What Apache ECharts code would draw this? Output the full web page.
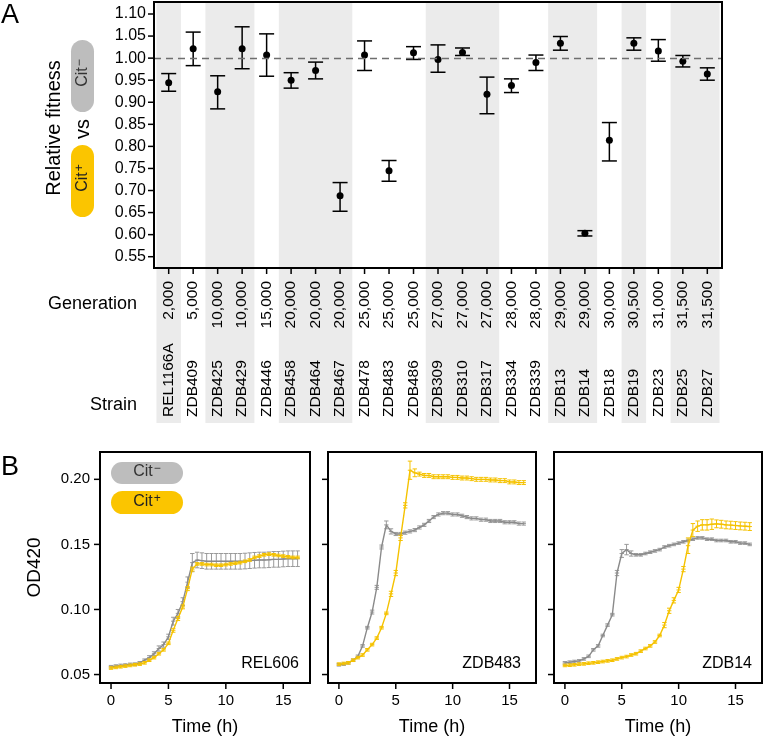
<!DOCTYPE html>
<html><head><meta charset="utf-8">
<script src="https://cdn.jsdelivr.net/npm/echarts@6/dist/echarts.min.js"></script>
<style>html,body{margin:0;padding:0;background:#fff}#c{width:764px;height:738px}</style>
</head><body><div id="c"></div>
<script>
// ---------- Panel A data ----------
const strains = ['REL1166A','ZDB409','ZDB425','ZDB429','ZDB446','ZDB458','ZDB464','ZDB467','ZDB478','ZDB483','ZDB486','ZDB309','ZDB310','ZDB317','ZDB334','ZDB339','ZDB13','ZDB14','ZDB18','ZDB19','ZDB23','ZDB25','ZDB27'];
const generations = ['2,000','5,000','10,000','10,000','15,000','20,000','20,000','20,000','25,000','25,000','25,000','27,000','27,000','27,000','28,000','28,000','29,000','29,000','30,000','30,500','31,000','31,500','31,500'];
const fitness     = [0.944,1.021,0.924,1.021,1.007,0.950,0.972,0.688,1.007,0.745,1.012,0.997,1.013,0.918,0.938,0.990,1.034,0.603,0.814,1.034,1.016,0.993,0.964];
const fitnessLow  = [0.925,0.983,0.885,0.976,0.959,0.932,0.953,0.653,0.972,0.721,0.997,0.968,1.006,0.874,0.922,0.972,1.018,0.597,0.767,1.018,0.993,0.980,0.950];
const fitnessHigh = [0.965,1.059,0.960,1.071,1.055,0.967,0.991,0.718,1.039,0.768,1.026,1.030,1.023,0.957,0.953,1.007,1.049,0.609,0.854,1.046,1.042,1.006,0.978];
const fitnessTicks = [0.55,0.60,0.65,0.70,0.75,0.80,0.85,0.90,0.95,1.00,1.05,1.10];

// ---------- Panel B data ----------
const hours = [0,0.42,0.83,1.25,1.67,2.08,2.5,2.92,3.33,3.75,4.17,4.58,5,5.42,5.83,6.25,6.67,7.08,7.5,7.92,8.33,8.75,9.17,9.58,10,10.42,10.83,11.25,11.67,12.08,12.5,12.92,13.33,13.75,14.17,14.58,15,15.42,15.83,16.25];
const rel606Minus = [0.056,0.0565,0.057,0.0573,0.0578,0.058,0.059,0.061,0.063,0.066,0.070,0.073,0.079,0.091,0.097,0.106,0.121,0.136,0.138,0.1375,0.137,0.137,0.137,0.137,0.137,0.137,0.137,0.137,0.1372,0.1375,0.1378,0.138,0.138,0.1382,0.1385,0.1385,0.1388,0.139,0.139,0.139];
const rel606MinusErr = [0.001,0.001,0.001,0.001,0.001,0.001,0.001,0.001,0.0015,0.0015,0.002,0.002,0.002,0.003,0.003,0.003,0.004,0.007,0.006,0.006,0.006,0.006,0.006,0.006,0.006,0.006,0.006,0.006,0.006,0.006,0.006,0.006,0.006,0.006,0.006,0.006,0.006,0.006,0.006,0.006];
const rel606Plus = [0.055,0.0555,0.056,0.0565,0.057,0.0575,0.058,0.059,0.061,0.063,0.066,0.069,0.074,0.084,0.093,0.102,0.116,0.131,0.135,0.135,0.1345,0.1345,0.134,0.134,0.1345,0.135,0.1355,0.136,0.137,0.138,0.140,0.141,0.142,0.1425,0.142,0.1415,0.141,0.1405,0.140,0.140];
const rel606PlusErr = [0.001,0.001,0.001,0.001,0.001,0.001,0.001,0.001,0.001,0.001,0.001,0.001,0.001,0.0015,0.0015,0.0015,0.0015,0.0015,0.001,0.001,0.001,0.001,0.001,0.001,0.001,0.001,0.001,0.001,0.001,0.001,0.001,0.001,0.001,0.001,0.001,0.001,0.001,0.001,0.001,0.001];
const zdb483Minus = [0.0575,0.058,0.059,0.061,0.064,0.072,0.086,0.098,0.117,0.148,0.165,0.160,0.158,0.158,0.159,0.160,0.161,0.163,0.165,0.168,0.171,0.173,0.174,0.174,0.173,0.173,0.172,0.171,0.170,0.170,0.169,0.169,0.168,0.168,0.168,0.167,0.167,0.167,0.166,0.166];
const zdb483MinusErr = [0.001,0.001,0.001,0.001,0.001,0.001,0.001,0.0015,0.0015,0.0015,0.003,0.002,0.0012,0.0012,0.0012,0.0012,0.0012,0.0012,0.0012,0.0012,0.0012,0.0012,0.0012,0.0012,0.0012,0.0012,0.0012,0.0012,0.0012,0.0012,0.0012,0.0012,0.0012,0.0012,0.0012,0.0012,0.0012,0.0012,0.0012,0.0012];
const zdb483Plus = [0.058,0.0585,0.059,0.061,0.063,0.065,0.069,0.073,0.078,0.086,0.097,0.112,0.128,0.155,0.180,0.207,0.205,0.204,0.203,0.203,0.202,0.202,0.202,0.202,0.2015,0.2015,0.201,0.201,0.2005,0.200,0.200,0.200,0.1995,0.1995,0.199,0.199,0.198,0.198,0.1975,0.1975];
const zdb483PlusErr = [0.001,0.001,0.001,0.001,0.001,0.001,0.001,0.001,0.001,0.001,0.001,0.002,0.002,0.002,0.002,0.007,0.003,0.0015,0.0015,0.0015,0.0015,0.0015,0.0015,0.0015,0.0015,0.0015,0.0015,0.0015,0.0015,0.0015,0.0015,0.0015,0.0015,0.0015,0.0015,0.0015,0.0015,0.0015,0.0015,0.0015];
const zdb14Minus = [0.059,0.0595,0.060,0.0605,0.062,0.064,0.069,0.072,0.080,0.088,0.096,0.128,0.143,0.146,0.143,0.142,0.142,0.143,0.144,0.145,0.146,0.148,0.149,0.150,0.151,0.152,0.153,0.154,0.155,0.155,0.154,0.154,0.153,0.153,0.153,0.152,0.152,0.151,0.151,0.150];
const zdb14MinusErr = [0.001,0.001,0.001,0.001,0.001,0.001,0.001,0.001,0.001,0.001,0.001,0.002,0.003,0.004,0.002,0.001,0.001,0.001,0.001,0.001,0.001,0.001,0.001,0.001,0.001,0.001,0.001,0.001,0.001,0.001,0.001,0.001,0.001,0.001,0.001,0.001,0.001,0.001,0.001,0.001];
const zdb14Plus = [0.057,0.0572,0.0575,0.058,0.0582,0.0587,0.059,0.0595,0.060,0.0605,0.061,0.062,0.063,0.0638,0.065,0.066,0.068,0.070,0.072,0.075,0.080,0.088,0.099,0.107,0.115,0.131,0.149,0.161,0.164,0.165,0.165,0.1655,0.1658,0.1655,0.165,0.1648,0.1645,0.1642,0.164,0.1637];
const zdb14PlusErr = [0.001,0.001,0.001,0.001,0.001,0.001,0.001,0.001,0.001,0.001,0.001,0.001,0.001,0.001,0.001,0.001,0.001,0.001,0.001,0.001,0.001,0.002,0.002,0.002,0.002,0.002,0.006,0.005,0.004,0.004,0.004,0.004,0.003,0.003,0.003,0.003,0.003,0.003,0.003,0.003];
const odTicks = [0.05,0.10,0.15,0.20];
const hourTicks = [0,5,10,15];

// ---------- styling ----------
const FONT = '"Liberation Sans", Arial, Helvetica, sans-serif';
const GRAY = '#8a8a8a', GRAY_ERR = '#9a9a9a', YEL = '#f5c200', BAND = '#ebebeb';
const TICK_LEN = 6;
const idx = strains.map((s, i) => i);

// shaded runs: alternate generation groups
const runs = [];
let groupIdx = -1, prev = null;
generations.forEach((g, i) => {
  if (g !== prev) { groupIdx++; prev = g; if (groupIdx % 2 === 0) runs.push([i, i]); }
  else if (groupIdx % 2 === 0) runs[runs.length - 1][1] = i;
});

function bandRender(clamp) {
  return function (params, api) {
    const cs = params.coordSys;
    let a = api.coord([api.value(0) - 0.5, 1])[0];
    let b = api.coord([api.value(1) + 0.5, 1])[0];
    if (clamp) { a = Math.max(a, cs.x); b = Math.min(b, cs.x + cs.width); }
    return { type: 'rect', shape: { x: a, y: cs.y, width: b - a, height: cs.height }, style: { fill: BAND } };
  };
}
function errRender(capHalf, color, width, mid) {
  return function (params, api) {
    const x = api.value(0);
    const p1 = api.coord([x, api.value(1)]), p2 = api.coord([x, api.value(2)]);
    const st = { stroke: color, lineWidth: width };
    const ch = [
      { type: 'line', shape: { x1: p1[0], y1: p1[1], x2: p2[0], y2: p2[1] }, style: st },
      { type: 'line', shape: { x1: p1[0] - capHalf, y1: p1[1], x2: p1[0] + capHalf, y2: p1[1] }, style: st },
      { type: 'line', shape: { x1: p2[0] - capHalf, y1: p2[1], x2: p2[0] + capHalf, y2: p2[1] }, style: st }
    ];
    if (mid) {
      const pm = api.coord([x, api.value(3)]);
      ch.push({ type: 'line', shape: { x1: pm[0] - capHalf, y1: pm[1], x2: pm[0] + capHalf, y2: pm[1] }, style: st });
    }
    return { type: 'group', children: ch };
  };
}
// outward tick marks drawn through the axis scales
function yTickSeries(g, values) {
  return { type: 'custom', xAxisIndex: g, yAxisIndex: g, z: 7, silent: true, clip: false,
    data: values.map(v => [v]), encode: { y: 0 },
    renderItem: (params, api) => {
      const cs = params.coordSys; const y = api.coord([0, api.value(0)])[1];
      return { type: 'line', shape: { x1: cs.x - TICK_LEN, y1: y, x2: cs.x, y2: y }, style: { stroke: '#000', lineWidth: 1.5 } };
    } };
}
function xTickSeries(g, values) {
  return { type: 'custom', xAxisIndex: g, yAxisIndex: g, z: 7, silent: true, clip: false,
    data: values.map(v => [v]), encode: { x: 0 },
    renderItem: (params, api) => {
      const cs = params.coordSys; const x = api.coord([api.value(0), 0])[0]; const yb = cs.y + cs.height;
      return { type: 'line', shape: { x1: x, y1: yb, x2: x, y2: yb + TICK_LEN }, style: { stroke: '#000', lineWidth: 1.5 } };
    } };
}

const grids = [
  { left: 154, top: 2, width: 568, height: 266, show: true, borderColor: '#000', borderWidth: 2, backgroundColor: 'transparent', z: 6 },
  { left: 154, top: 268, width: 568, height: 155, show: false },
  { left: 100, top: 452, width: 210, height: 231, show: true, borderColor: '#000', borderWidth: 2, backgroundColor: 'transparent', z: 6 },
  { left: 328, top: 452, width: 208, height: 231, show: true, borderColor: '#000', borderWidth: 2, backgroundColor: 'transparent', z: 6 },
  { left: 554, top: 452, width: 208, height: 231, show: true, borderColor: '#000', borderWidth: 2, backgroundColor: 'transparent', z: 6 }
];
const noLine = { show: false, onZero: false };
const noTick = { show: false };

const xAxes = [
  { type: 'value', gridIndex: 0, min: -0.6, max: 22.6, z: 5, position: 'bottom',
    axisLine: noLine, splitLine: { show: false }, axisTick: noTick,
    axisLabel: { customValues: idx, rotate: 90, margin: 13, fontSize: 15.5, color: '#000', fontFamily: FONT,
      formatter: v => generations[Math.round(v)] } },
  { type: 'value', gridIndex: 1, min: -0.6, max: 22.6, position: 'bottom', z: 5,
    axisLine: noLine, splitLine: { show: false }, axisTick: noTick,
    axisLabel: { customValues: idx, inside: true, rotate: 90, margin: 6, fontSize: 15.5, color: '#000', fontFamily: FONT,
      formatter: v => strains[Math.round(v)] } }
];
const yAxes = [
  { type: 'value', gridIndex: 0, min: 0.5244, max: 1.1272, z: 5, position: 'left',
    axisLine: noLine, splitLine: { show: false }, axisTick: noTick,
    axisLabel: { customValues: fitnessTicks, margin: 8, fontSize: 16, color: '#000', fontFamily: FONT, formatter: v => v.toFixed(2) } },
  { type: 'value', gridIndex: 1, min: 0, max: 1, show: false, axisLine: noLine }
];
for (let k = 0; k < 3; k++) {
  const g = k + 2;
  xAxes.push({ type: 'value', gridIndex: g, min: -0.96, max: 17.33, z: 5, position: 'bottom',
    name: 'Time (h)', nameLocation: 'middle', nameGap: 35, nameTextStyle: { fontSize: 18, color: '#000', fontFamily: FONT },
    axisLine: noLine, splitLine: { show: false }, axisTick: noTick,
    axisLabel: { customValues: hourTicks, margin: 10, fontSize: 15, color: '#000', fontFamily: FONT } });
  yAxes.push({ type: 'value', gridIndex: g, min: 0.0435, max: 0.221, z: 5, position: 'left',
    name: k === 0 ? 'OD420' : '', nameLocation: 'middle', nameGap: 56, nameTextStyle: { fontSize: 19, color: '#000', fontFamily: FONT },
    axisLine: noLine, splitLine: { show: false }, axisTick: noTick,
    axisLabel: { show: k === 0, customValues: odTicks, margin: 10, fontSize: 15, color: '#000', fontFamily: FONT, formatter: v => v.toFixed(2) } });
}

const series = [
  { type: 'custom', xAxisIndex: 0, yAxisIndex: 0, z: 1, silent: true, data: runs, renderItem: bandRender(true), encode: { x: [0, 1] } },
  { type: 'custom', xAxisIndex: 1, yAxisIndex: 1, z: 1, silent: true, data: runs, renderItem: bandRender(false), encode: { x: [0, 1] } },
  { type: 'custom', xAxisIndex: 0, yAxisIndex: 0, z: 3, silent: true,
    data: idx.map(i => [i, fitnessLow[i], fitnessHigh[i]]), renderItem: errRender(7.5, '#000', 1.5, false), encode: { x: 0, y: [1, 2] } },
  { type: 'scatter', xAxisIndex: 0, yAxisIndex: 0, z: 4, symbolSize: 7, itemStyle: { color: '#000', opacity: 1 },
    data: idx.map(i => [i, fitness[i]]),
    markLine: { silent: true, symbol: ['none', 'none'], label: { show: false },
      lineStyle: { type: [7, 5], color: '#6e6e6e', width: 1.3 }, data: [{ yAxis: 1 }] } },
  yTickSeries(0, fitnessTicks),
  xTickSeries(0, idx)
];

const panels = [
  { label: 'REL606', minus: rel606Minus, minusErr: rel606MinusErr, plus: rel606Plus, plusErr: rel606PlusErr },
  { label: 'ZDB483', minus: zdb483Minus, minusErr: zdb483MinusErr, plus: zdb483Plus, plusErr: zdb483PlusErr },
  { label: 'ZDB14', minus: zdb14Minus, minusErr: zdb14MinusErr, plus: zdb14Plus, plusErr: zdb14PlusErr }
];
panels.forEach((p, k) => {
  const g = k + 2;
  const errData = (v, e) => hours.map((h, i) => [h, v[i] - e[i], v[i] + e[i], v[i]]);
  const lineData = v => hours.map((h, i) => [h, v[i]]);
  series.push({ type: 'custom', xAxisIndex: g, yAxisIndex: g, z: 2, silent: true, data: errData(p.minus, p.minusErr),
    renderItem: errRender(2.2, GRAY_ERR, 1, true), encode: { x: 0, y: [1, 2] } });
  series.push({ type: 'line', xAxisIndex: g, yAxisIndex: g, z: 3, silent: true, symbol: 'none', showSymbol: false,
    lineStyle: { color: GRAY, width: 1.4 }, data: lineData(p.minus) });
  series.push({ type: 'custom', xAxisIndex: g, yAxisIndex: g, z: 4, silent: true, data: errData(p.plus, p.plusErr),
    renderItem: errRender(2.2, YEL, 1, true), encode: { x: 0, y: [1, 2] } });
  series.push({ type: 'line', xAxisIndex: g, yAxisIndex: g, z: 5, silent: true, symbol: 'none', showSymbol: false,
    lineStyle: { color: YEL, width: 1.4 }, data: lineData(p.plus) });
  series.push(yTickSeries(g, odTicks));
  series.push(xTickSeries(g, hourTicks));
});

function citText(sign, size, color) {
  return { text: '{m|Cit}{s|' + sign + '}',
    rich: { m: { fontSize: size, fill: color, fontFamily: FONT },
            s: { fontSize: size * 0.75, fill: color, fontFamily: FONT, padding: [0, 0, size * 0.45, 1] } } };
}
function pillText(x, y, sign, size, color, rot) {
  const t = citText(sign, size, color);
  return { type: 'text', x: x, y: y, rotation: rot, z: 20,
    style: Object.assign({ align: 'center', verticalAlign: 'middle' }, t) };
}
const txt = (x, y, text, size, align, rot) => ({ type: 'text', x: x, y: y, rotation: rot || 0, z: 20,
  style: { text: text, fontSize: size, fontFamily: FONT, fill: '#000', align: align || 'center', verticalAlign: 'middle' } });

const graphic = [
  txt(1, 16, 'A', 27, 'left'),
  txt(1, 468, 'B', 27, 'left'),
  txt(54, 128, 'Relative fitness', 20, 'center', Math.PI / 2),
  txt(83, 129, 'vs', 20, 'center', Math.PI / 2),
  { type: 'rect', z: 19, shape: { x: 71, y: 40, width: 23, height: 72, r: 11.5 }, style: { fill: '#bdbdbd' } },
  pillText(83, 73, '\u2212', 16, '#333', Math.PI / 2),
  { type: 'rect', z: 19, shape: { x: 71, y: 145, width: 23, height: 72, r: 11.5 }, style: { fill: '#fbc500' } },
  pillText(83, 178, '+', 16, '#222', Math.PI / 2),
  txt(137, 304, 'Generation', 18, 'right'),
  txt(137, 405, 'Strain', 18, 'right'),
  { type: 'rect', z: 19, shape: { x: 111, y: 462, width: 72, height: 22, r: 11 }, style: { fill: '#bdbdbd' } },
  pillText(147, 472, '\u2212', 16, '#333', 0),
  { type: 'rect', z: 19, shape: { x: 111, y: 491, width: 72, height: 23, r: 11.5 }, style: { fill: '#fbc500' } },
  pillText(147, 502, '+', 16, '#222', 0),
  txt(299, 664, panels[0].label, 16, 'right'),
  txt(521, 664, panels[1].label, 16, 'right'),
  txt(752, 664, panels[2].label, 16, 'right')
];

const chart = echarts.init(document.getElementById('c'), null, { renderer: 'canvas' });
chart.setOption({
  animation: false,
  backgroundColor: '#fff',
  textStyle: { fontFamily: FONT },
  grid: grids, xAxis: xAxes, yAxis: yAxes, series: series, graphic: graphic
});
</script></body></html>
